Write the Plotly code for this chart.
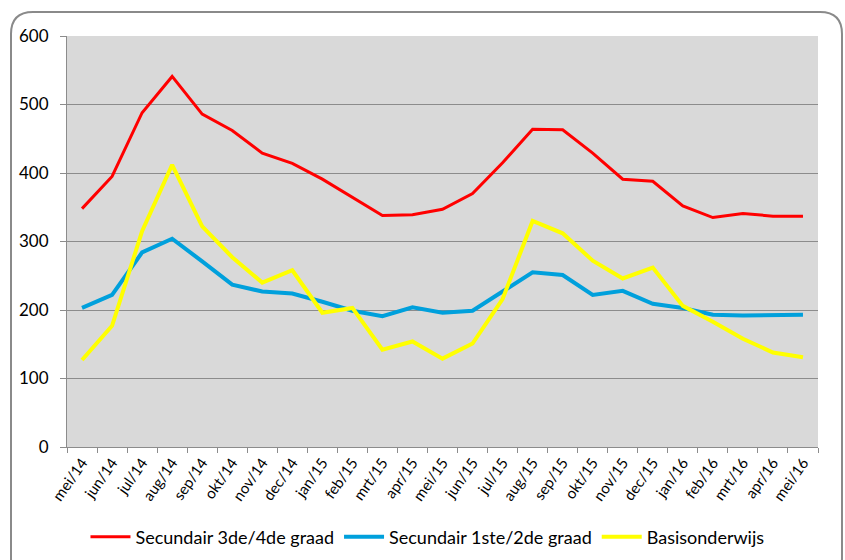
import plotly.graph_objects as go

months = ["mei/14", "jun/14", "jul/14", "aug/14", "sep/14", "okt/14", "nov/14", "dec/14",
          "jan/15", "feb/15", "mrt/15", "apr/15", "mei/15", "jun/15", "jul/15", "aug/15",
          "sep/15", "okt/15", "nov/15", "dec/15", "jan/16", "feb/16", "mrt/16", "apr/16", "mei/16"]

sec34 = [348, 395, 488, 541, 486, 462, 429, 414, 391, 365, 338, 339, 347, 370, 415, 464,
         463, 429, 391, 388, 352, 335, 341, 337, 337]
sec12 = [203, 222, 284, 304, 271, 237, 227, 224, 212, 199, 191, 204, 196, 199, 227, 255,
         251, 222, 228, 209, 203, 193, 192, 193, 193]
basis = [127, 177, 315, 412, 322, 277, 240, 258, 196, 203, 142, 154, 129, 151, 216, 330,
         312, 272, 246, 262, 206, 183, 158, 138, 131]

series = [
    ("Secundair 3de/4de graad", sec34, "#FF0000", 3),
    ("Secundair 1ste/2de graad", sec12, "#00A0DC", 4),
    ("Basisonderwijs", basis, "#FFFF00", 4),
]

fig = go.Figure()
for name, vals, color, w in series:
    fig.add_trace(go.Scatter(x=months, y=vals, mode="lines", name=name,
                             line=dict(color=color, width=w)))

W, H = 845, 560
L, R, T, B = 67, 818, 36, 447


def px(x):
    return (x - L) / (R - L)


def py(y):
    return (B - y) / (B - T)


bl, br, bt, bb, rad = 11, 842, 12, 580, 22
path = (f"M {px(bl)},{py(bt + rad)} Q {px(bl)},{py(bt)} {px(bl + rad)},{py(bt)} "
        f"L {px(br - rad)},{py(bt)} Q {px(br)},{py(bt)} {px(br)},{py(bt + rad)} "
        f"L {px(br)},{py(bb - rad)} Q {px(br)},{py(bb)} {px(br - rad)},{py(bb)} "
        f"L {px(bl + rad)},{py(bb)} Q {px(bl)},{py(bb)} {px(bl)},{py(bb - rad)} Z")

fig.update_layout(
    width=W, height=H,
    margin=dict(l=L, r=W - R, t=T, b=H - B, autoexpand=False),
    paper_bgcolor="white",
    plot_bgcolor="#D9D9D9",
    font=dict(family="Lato, Liberation Sans, sans-serif", size=15, color="#000000"),
    showlegend=True,
    legend=dict(orientation="h", x=0.48, xanchor="center", y=py(537), yanchor="middle",
                font=dict(size=18), itemwidth=40, tracegroupgap=0, bgcolor="rgba(0,0,0,0)"),
    shapes=[dict(type="path", path=path, xref="paper", yref="paper",
                 line=dict(color="#8A8A8A", width=2), layer="below")],
    xaxis=dict(type="category", tickson="boundaries", ticks="outside", ticklen=5,
               tickcolor="#8C8C8C", showline=True, linecolor="#8C8C8C", linewidth=1,
               tickangle=-55, showgrid=False, tickfont=dict(size=15), automargin=False,
               range=[-0.5, len(months) - 0.5]),
    yaxis=dict(range=[0, 600], dtick=100, ticks="outside", ticklen=6, tickcolor="#8C8C8C",
               showline=True, linecolor="#8C8C8C", linewidth=1, gridcolor="#8C8C8C",
               gridwidth=1, zeroline=False, tickfont=dict(size=17), automargin=False,
               ticklabelstandoff=8),
)

fig.write_html("out.html", config={"displayModeBar": False},
               post_script="document.body.style.margin='0';")
